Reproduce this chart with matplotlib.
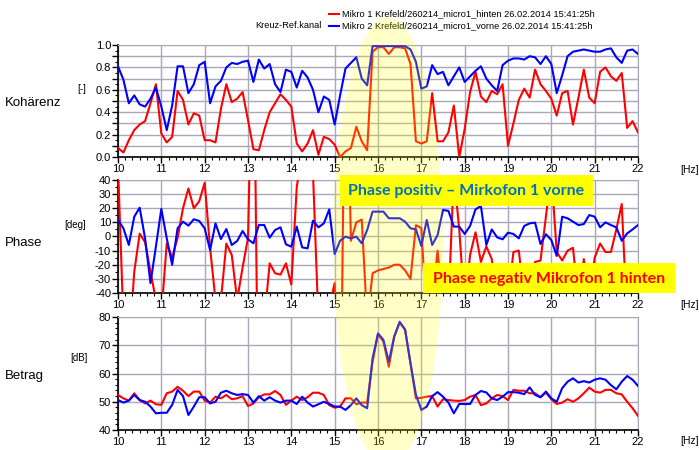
import numpy as np
import matplotlib
matplotlib.use("Agg")
import matplotlib.pyplot as plt
from matplotlib.patches import Ellipse, Rectangle
from matplotlib.ticker import MultipleLocator

# frequency axis, 0.125 Hz steps from 10 to 22 Hz
freq = np.arange(97) * 0.125 + 10

koh_red = [0.08, 0.04, 0.15, 0.24, 0.29, 0.32, 0.48, 0.65, 0.21, 0.13, 0.18, 0.59, 0.51, 0.29, 0.39, 0.37,
           0.15, 0.15, 0.13, 0.43, 0.65, 0.49, 0.52, 0.58, 0.33, 0.07, 0.06, 0.24, 0.40, 0.48, 0.56, 0.51,
           0.45, 0.12, 0.05, 0.12, 0.24, 0.02, 0.18, 0.16, 0.11, 0.00, 0.05, 0.08, 0.27, 0.14, 0.06, 0.94,
           0.98, 0.98, 0.92, 0.98, 0.98, 0.97, 0.83, 0.14, 0.12, 0.14, 0.57, 0.14, 0.14, 0.22, 0.46, 0.00,
           0.25, 0.58, 0.76, 0.54, 0.49, 0.59, 0.56, 0.65, 0.10, 0.30, 0.51, 0.61, 0.53, 0.78, 0.65, 0.59,
           0.52, 0.37, 0.57, 0.59, 0.29, 0.53, 0.78, 0.53, 0.48, 0.76, 0.80, 0.72, 0.68, 0.75, 0.26, 0.32,
           0.22]
koh_blue = [0.81, 0.69, 0.48, 0.55, 0.47, 0.45, 0.52, 0.62, 0.45, 0.24, 0.46, 0.81, 0.81, 0.57, 0.65, 0.82,
            0.85, 0.48, 0.63, 0.68, 0.80, 0.84, 0.83, 0.85, 0.86, 0.67, 0.87, 0.79, 0.83, 0.65, 0.58, 0.78,
            0.76, 0.62, 0.77, 0.71, 0.60, 0.40, 0.54, 0.51, 0.29, 0.55, 0.79, 0.84, 0.89, 0.70, 0.64, 0.99,
            0.99, 0.99, 0.99, 0.99, 0.99, 0.99, 0.96, 0.85, 0.61, 0.63, 0.82, 0.74, 0.76, 0.64, 0.72, 0.80,
            0.67, 0.72, 0.77, 0.81, 0.70, 0.64, 0.59, 0.82, 0.86, 0.88, 0.88, 0.87, 0.90, 0.89, 0.83, 0.90,
            0.83, 0.57, 0.73, 0.90, 0.94, 0.95, 0.96, 0.95, 0.94, 0.94, 0.96, 0.97, 0.89, 0.84, 0.95, 0.96,
            0.92]

phase_red = [50, -60, -80, -25, 2, -4, -25, -45, -55, -5, -15, -1, 20, 34, 20, 25,
             38, -8, -45, -45, -5, -13, -45, -22, -1, 170, -170, -60, -19, -26, -27, -19,
             -34, 35, 60, 70, 45, -60, -60, -50, -33, -170, 170, -3, 10, 12, -60, -26,
             -24, -23, -22, -20, -20, -24, -30, 8, 6, -60, -45, -10, -50, -50, 45, 5,
             -50, -13, 3, -18, -7, -16, -45, -45, -45, -11, -10, -45, -45, -18, -17, 14,
             45, -11, -17, -10, -8, -45, -16, -45, -15, -5, -11, -11, 5, 23, -60, -60,
             -60]
phase_blue = [11.7, 5.8, -6, 14, 20.4, -1.3, -33, -7, 19.5, -1.3, -20, 5.8, 10.5, 7.7, 12.2, 11,
              5.8, -9.6, 9.3, -1.8, 5.3, -6, -3.2, 3.9, -2, -4.8, 8.1, 8.1, -0.8, 4.6, 6.5, -5.5,
              -7.2, 7, -7.7, -8.4, 11.2, 6.5, 9.3, 19.2, -12.4, -3, -0.1, -1.3, -0.1, -4.8, 4.6, 17.6,
              17.6, 17.6, 12.9, 12.9, 12.9, 10.5, 5.8, 5, -6.7, 11.7, -6, 1, 18.8, 18.1, 7, 7,
              1.8, 7.5, 19.2, 21.6, -6, 5, -0.6, -2, 2.7, 1.8, -1.3, 7.5, 9.3, 9.8, -5.3, 1.6,
              -2.5, -13.8, 14, 12.9, 10.5, 8.1, 8.8, 15.2, 14, 6.5, 10, 8.1, 6.5, -3, 2.2, 5,
              8.1]

betrag_red = [52.4, 51.2, 50.4, 53.0, 50.6, 49.4, 50.4, 49.1, 48.9, 53.0, 53.6, 55.3, 53.9, 52.0, 53.6, 53.6,
              50.4, 49.7, 51.8, 51.2, 52.4, 50.9, 51.2, 52.0, 48.5, 49.4, 51.6, 52.6, 52.6, 53.8, 52.4, 48.9,
              50.4, 51.8, 50.6, 51.6, 53.2, 53.2, 52.4, 48.8, 47.9, 48.3, 51.2, 51.2, 49.1, 49.7, 49.7, 64.2,
              73.9, 71.3, 62.4, 73.1, 78.0, 75.4, 63.6, 51.2, 51.4, 51.8, 52.0, 48.3, 50.9, 50.6, 50.4, 50.3,
              50.6, 51.8, 52.4, 48.8, 49.4, 51.2, 52.4, 52.0, 50.6, 54.2, 53.9, 53.9, 53.0, 53.0, 51.6, 53.2,
              50.9, 49.2, 49.7, 50.9, 50.0, 51.2, 53.0, 55.0, 53.6, 53.2, 54.2, 54.2, 53.0, 52.6, 50.0, 47.7,
              45.0]
betrag_blue = [50.6, 49.7, 50.4, 52.4, 50.6, 50.0, 48.3, 45.9, 46.1, 46.1, 48.9, 54.2, 52.0, 45.3, 48.3, 51.6,
               51.6, 49.4, 50.0, 53.2, 53.9, 53.0, 52.4, 52.7, 52.4, 49.7, 52.0, 50.4, 51.6, 50.4, 49.7, 50.4,
               50.4, 49.2, 51.8, 49.7, 48.3, 49.1, 50.0, 49.2, 48.3, 48.3, 47.1, 48.8, 51.2, 48.8, 47.7, 65.4,
               74.2, 71.9, 64.2, 73.1, 78.3, 75.6, 63.6, 52.5, 47.1, 48.3, 52.0, 53.4, 51.8, 49.7, 45.9, 49.2,
               49.2, 49.2, 52.4, 53.8, 53.3, 51.2, 50.6, 51.8, 53.4, 53.4, 53.2, 52.7, 55.1, 52.4, 51.6, 53.6,
               51.2, 50.0, 54.8, 57.1, 58.3, 56.8, 57.3, 56.8, 57.8, 58.3, 57.8, 55.9, 54.4, 57.1, 59.1, 57.8,
               55.6]

legend_red = "Mikro 1 Krefeld/260214_micro1_hinten 26.02.2014 15:41:25h"
legend_blue = "Mikro 2 Krefeld/260214_micro1_vorne 26.02.2014 15:41:25h"

W, H = 699, 450
fig = plt.figure(figsize=(W / 100, H / 100), dpi=100)
plt.rcParams['font.family'] = ['Liberation Sans', 'DejaVu Sans']


def add_panel(top, bottom):
    return fig.add_axes([118 / W, 1 - bottom / H, (638 - 118) / W, (bottom - top) / H])


panels = [
    (add_panel(45, 157), koh_red, koh_blue, (0, 1), 0.1, 0.05, "{:.1f}"),
    (add_panel(180, 293), phase_red, phase_blue, (-40, 40), 10, 5, "{:.0f}"),
    (add_panel(317, 430), betrag_red, betrag_blue, (40, 80), 10, 2, "{:.0f}"),
]

for ax, red, blue, ylim, grid_step, minor, fmt in panels:
    ax.plot(freq, red, color="#ff0000", lw=1.5, zorder=3)
    ax.plot(freq, blue, color="#0000ff", lw=1.5, zorder=4)
    ax.set_xlim(10, 22)
    ax.set_ylim(*ylim)
    ax.xaxis.set_major_locator(MultipleLocator(1))
    ax.xaxis.set_minor_locator(MultipleLocator(1 / 6))
    ax.yaxis.set_minor_locator(MultipleLocator(minor))
    yt = np.arange(ylim[0], ylim[1] + grid_step / 2, grid_step)
    ax.set_yticks(yt)
    ax.set_yticklabels([fmt.format(v) for v in yt])
    ax.grid(True, which="major", color="#a8a8b8", lw=1)
    ax.tick_params(which="both", direction="out", labelsize=8, colors="black", pad=1)
    ax.tick_params(which="major", length=4, width=1)
    ax.tick_params(which="minor", length=2.5, width=0.8)
    for s in ("top", "right"):
        ax.spines[s].set_color("#a8a8b8")
    for s in ("left", "bottom"):
        ax.spines[s].set_linewidth(1.2)

# coherence: labels every 0.2, grid every 0.1
ax_k = panels[0][0]
kt = np.arange(0, 1.01, 0.1)
ax_k.set_yticklabels(["{:.1f}".format(v) if i % 2 == 0 else "" for i, v in enumerate(kt)])

# labels on the left
fig.text(5 / W, 1 - 103 / H, "Kohärenz", fontsize=9.5, va="center")
fig.text(86 / W, 1 - 89 / H, "[-]", fontsize=7, va="center", ha="right")
fig.text(5 / W, 1 - 243 / H, "Phase", fontsize=9.5, va="center")
fig.text(86 / W, 1 - 225 / H, "[deg]", fontsize=7, va="center", ha="right")
fig.text(5 / W, 1 - 376 / H, "Betrag", fontsize=9.5, va="center")
fig.text(88 / W, 1 - 358 / H, "[dB]", fontsize=7, va="center", ha="right")
for y in (170, 305, 441):
    fig.text(680 / W, 1 - y / H, "[Hz]", fontsize=7.5, va="center")

# overlay in pixel coordinates
ov = fig.add_axes([0, 0, 1, 1], facecolor="none")
ov.set_xlim(0, W)
ov.set_ylim(H, 0)
ov.axis("off")

ov.plot([329, 339], [14, 14], color="#ff0000", lw=1.5)
ov.plot([329, 339], [26, 26], color="#0000ff", lw=1.5)
ov.text(342, 14, legend_red, fontsize=6.7, va="center")
ov.text(342, 26, legend_blue, fontsize=6.7, va="center")
ov.text(322, 26, "Kreuz-Ref.kanal", fontsize=6.7, va="center", ha="right")

ov.add_patch(Ellipse((388, 242), 110, 450, facecolor="#ffff00", alpha=0.22, edgecolor="none", zorder=5))

ov.add_patch(Rectangle((340, 175), 253, 31, facecolor="#ffff00", edgecolor="none", zorder=6))
ov.text(466, 191, "Phase positiv – Mirkofon 1 vorne", color="#0070c0", fontsize=11.5,
        fontweight="bold", family=["Lato", "DejaVu Sans"], ha="center", va="center", zorder=7)
ov.add_patch(Rectangle((423, 263), 252, 30, facecolor="#ffff00", edgecolor="none", zorder=6))
ov.text(549, 279, "Phase negativ Mikrofon 1 hinten", color="#ff0000", fontsize=11.5,
        fontweight="bold", family=["Lato", "DejaVu Sans"], ha="center", va="center", zorder=7)

fig.savefig("out.png", dpi=100)
